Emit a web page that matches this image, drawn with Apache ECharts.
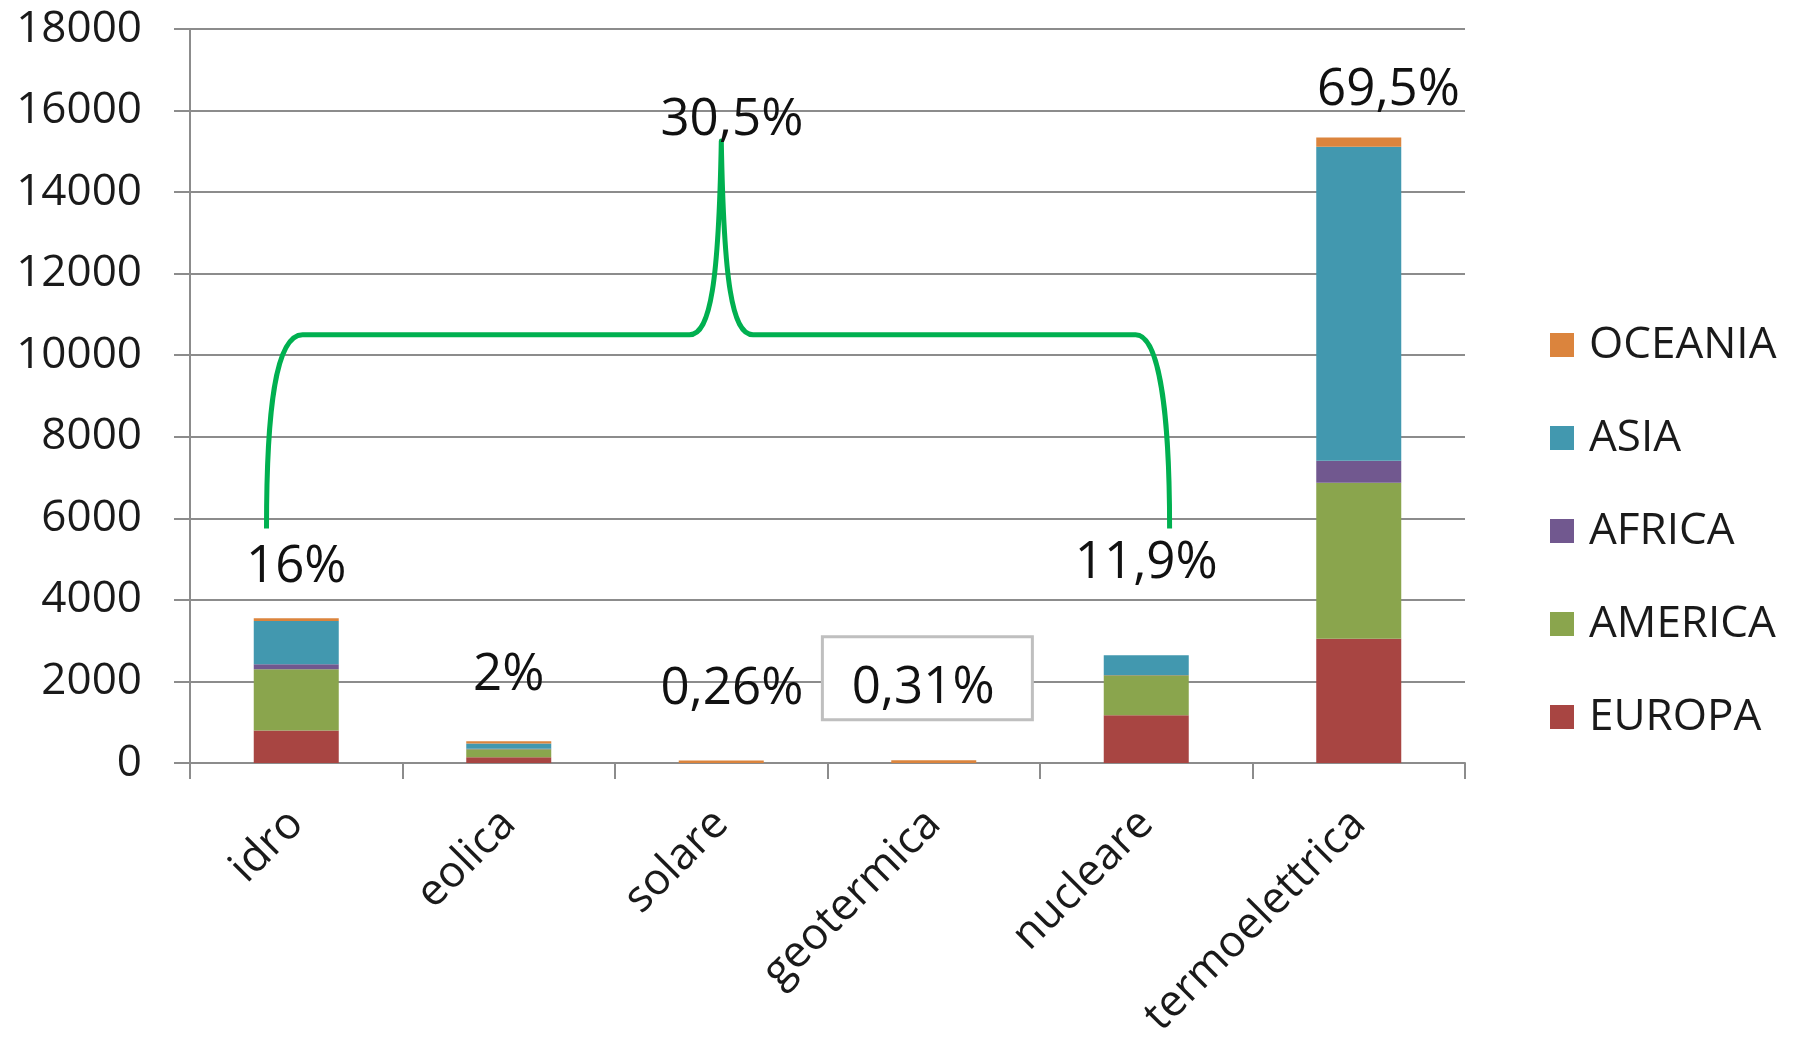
<!DOCTYPE html>
<html>
<head>
<meta charset="utf-8">
<script src="https://cdn.jsdelivr.net/npm/echarts@6/dist/echarts.min.js"></script>
<style>
html,body{margin:0;padding:0;background:#fff;}
#chart{width:1804px;height:1042px;}
</style>
</head>
<body>
<div id="chart"></div>
<script>
// ---- data ----
const categories = ['idro', 'eolica', 'solare', 'geotermica', 'nucleare', 'termoelettrica'];
const EUROPA  = [800, 140, 0, 0, 1170, 3050];
const AMERICA = [1500, 200, 0, 0, 980, 3820];
const AFRICA  = [120, 10, 0, 0, 10, 540];
const ASIA    = [1060, 130, 0, 0, 480, 7700];
const OCEANIA = [70, 55, 60, 70, 0, 230];
const yTicks = { min: 0, max: 18000, interval: 2000 };

// annotation texts (percent shares) and where they sit (category units, value units)
const annoText = ['16%', '2%', '0,26%', '0,31%', '11,9%', '69,5%', '30,5%'];
const annoX    = [0, 1, 2.05, 2.95, 4.0, 5.14, 2.05];
const annoY    = [4800, 2150, 1800, 1840, 4900, 16500, 15750];

// green brace: anchor points (category units, value units)
const braceLeft  = -0.14, braceRight = 4.11, braceBottom = 5750, braceLevel = 10500;
const bracePeakX = 2.0, bracePeakY = 15250;

const colors = {
  EUROPA: '#A84542', AMERICA: '#8AA54D', AFRICA: '#71588F', ASIA: '#4298AF', OCEANIA: '#DB843D'
};
const FONT = '"Open Sans", "DejaVu Sans", sans-serif';
const axisGray = '#8c8c8c';

const chart = echarts.init(document.getElementById('chart'));

function barSeries(name, data) {
  return {
    name: name, type: 'bar', stack: 'total', data: data,
    xAxisIndex: 0, yAxisIndex: 0,
    barCategoryGap: '60%',
    itemStyle: { color: colors[name] },
    emphasis: { disabled: true }
  };
}

const option = {
  animation: false,
  backgroundColor: '#ffffff',
  grid: { left: 190, right: 339, top: 29, bottom: 279, containLabel: false, outerBoundsMode: 'none' },
  legend: {
    orient: 'vertical',
    left: 1545, top: 318,
    data: ['OCEANIA', 'ASIA', 'AFRICA', 'AMERICA', 'EUROPA'],
    icon: 'rect', itemWidth: 24, itemHeight: 24, itemGap: 49,
    textStyle: { fontFamily: FONT, fontSize: 44, color: '#1a1a1a', padding: [0, 0, 0, 10] },
    selectedMode: false
  },
  xAxis: [
    {
      type: 'category', data: categories, gridIndex: 0,
      axisLine: { lineStyle: { color: axisGray, width: 2 } },
      axisTick: { show: true, alignWithLabel: false, length: 16, lineStyle: { color: axisGray, width: 2 } },
      axisLabel: { rotate: 45, fontFamily: FONT, fontSize: 44, color: '#1a1a1a', margin: 54, hideOverlap: false },
      splitLine: { show: false }
    },
    { type: 'value', min: -0.5, max: 5.5, show: false, gridIndex: 0 }
  ],
  yAxis: {
    type: 'value', min: yTicks.min, max: yTicks.max, interval: yTicks.interval,
    axisLine: { show: true, onZero: false, lineStyle: { color: axisGray, width: 2 } },
    axisTick: { show: true, length: 16, lineStyle: { color: axisGray, width: 2 } },
    axisLabel: { fontFamily: FONT, fontSize: 44, color: '#1a1a1a', margin: 48,
                 formatter: function (v) { return String(v); } },
    splitLine: { lineStyle: { color: axisGray, width: 2 } }
  },
  series: [
    barSeries('EUROPA', EUROPA),
    barSeries('AMERICA', AMERICA),
    barSeries('AFRICA', AFRICA),
    barSeries('ASIA', ASIA),
    barSeries('OCEANIA', OCEANIA),
    {
      type: 'custom', name: 'brace', xAxisIndex: 1, yAxisIndex: 0, z: 5,
      data: [[bracePeakX, bracePeakY]],
      renderItem: function (params, api) {
        const p = (x, y) => api.coord([x, y]);
        const pts = {
          a: p(braceLeft, braceBottom),
          a1: p(braceLeft, 8600), a2: p(braceLeft + 0.04, braceLevel), b: p(0.03, braceLevel),
          c: p(bracePeakX - 0.15, braceLevel),
          c1: p(bracePeakX - 0.05, braceLevel), c2: p(bracePeakX - 0.012, 11800),
          d: p(bracePeakX, bracePeakY),
          e1: p(bracePeakX + 0.012, 11800), e2: p(bracePeakX + 0.05, braceLevel),
          e: p(bracePeakX + 0.15, braceLevel),
          f: p(braceRight - 0.16, braceLevel),
          f1: p(braceRight - 0.05, braceLevel), f2: p(braceRight, 8600),
          g: p(braceRight, braceBottom)
        };
        const s = q => q[0].toFixed(1) + ' ' + q[1].toFixed(1);
        const d = 'M ' + s(pts.a) +
          ' C ' + s(pts.a1) + ' ' + s(pts.a2) + ' ' + s(pts.b) +
          ' L ' + s(pts.c) +
          ' C ' + s(pts.c1) + ' ' + s(pts.c2) + ' ' + s(pts.d) +
          ' C ' + s(pts.e1) + ' ' + s(pts.e2) + ' ' + s(pts.e) +
          ' L ' + s(pts.f) +
          ' C ' + s(pts.f1) + ' ' + s(pts.f2) + ' ' + s(pts.g);
        return {
          type: 'path',
          shape: { pathData: d },
          style: { fill: 'none', stroke: '#00B050', lineWidth: 5, lineJoin: 'round', lineCap: 'butt' }
        };
      }
    },
    {
      type: 'custom', name: 'labels', xAxisIndex: 1, yAxisIndex: 0, z: 10,
      data: annoText.map((t, i) => [annoX[i], annoY[i]]),
      renderItem: function (params, api) {
        const i = params.dataIndex;
        const pt = api.coord([annoX[i], annoY[i]]);
        const children = [];
        if (annoText[i] === '0,31%') {
          const c = api.coord([annoX[i] + 0.02, annoY[i] + 250]);
          children.push({
            type: 'rect',
            shape: { x: c[0] - 105, y: c[1] - 41, width: 210, height: 83 },
            style: { fill: '#ffffff', stroke: '#bfbfbf', lineWidth: 3 }
          });
        }
        children.push({
          type: 'text', x: pt[0], y: pt[1],
          style: {
            text: annoText[i], fill: '#111111',
            fontFamily: FONT, fontSize: 51,
            align: 'center', verticalAlign: 'middle'
          }
        });
        return { type: 'group', children: children };
      }
    }
  ]
};
chart.setOption(option);
</script>
</body>
</html>
